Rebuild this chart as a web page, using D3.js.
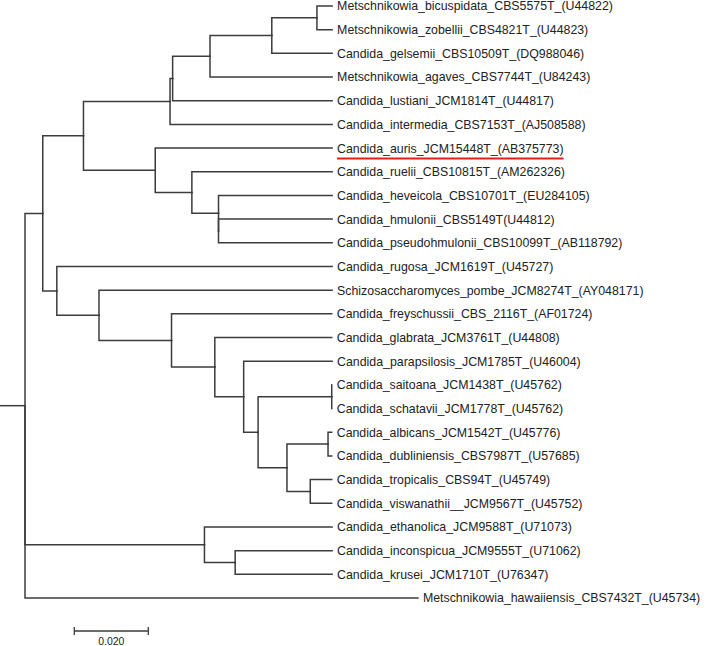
<!DOCTYPE html>
<html><head><meta charset="utf-8">
<script src="https://cdn.jsdelivr.net/npm/d3@7/dist/d3.min.js"></script>
<style>body{margin:0;background:#fff}svg{display:block}</style>
</head><body>
<svg id="c" width="707" height="646"></svg>
<script>
// Tree topology & branch lengths (substitutions/site), children listed in drawing order
const nodeIds = [
 "root","A","C","O","Q","R","S","T",
 "Metschnikowia_bicuspidata_CBS5575T_(U44822)","Metschnikowia_zobellii_CBS4821T_(U44823)",
 "Candida_gelsemii_CBS10509T_(DQ988046)","Metschnikowia_agaves_CBS7744T_(U84243)",
 "Candida_lustiani_JCM1814T_(U44817)","Candida_intermedia_CBS7153T_(AJ508588)",
 "P","Candida_auris_JCM15448T_(AB375773)","U","Candida_ruelii_CBS10815T_(AM262326)",
 "V","Candida_heveicola_CBS10701T_(EU284105)","V2","Candida_hmulonii_CBS5149T(U44812)",
 "Candida_pseudohmulonii_CBS10099T_(AB118792)",
 "D","Candida_rugosa_JCM1619T_(U45727)","E","Schizosaccharomyces_pombe_JCM8274T_(AY048171)",
 "F","Candida_freyschussii_CBS_2116T_(AF01724)","G","Candida_glabrata_JCM3761T_(U44808)",
 "H","Candida_parapsilosis_JCM1785T_(U46004)","I","J","Candida_saitoana_JCM1438T_(U45762)",
 "Candida_schatavii_JCM1778T_(U45762)","K","L","Candida_albicans_JCM1542T_(U45776)",
 "Candida_dubliniensis_CBS7987T_(U57685)","M","Candida_tropicalis_CBS94T_(U45749)",
 "Candida_viswanathii__JCM9567T_(U45752)",
 "B","Candida_ethanolica_JCM9588T_(U71073)","N","Candida_inconspicua_JCM9555T_(U71062)",
 "Candida_krusei_JCM1710T_(U76347)","Metschnikowia_hawaiiensis_CBS7432T_(U45734)"
];
const parentIds = [
 "","root","A","C","O","Q","R","S",
 "T","T",
 "S","R",
 "Q","O",
 "C","P","P","U",
 "U","V","V","V2",
 "V2",
 "A","D","D","E",
 "E","F","F","G",
 "G","H","H","I","J",
 "J","I","K","L",
 "L","K","M",
 "M",
 "root","B","B","N",
 "N","root"
];
const branchLengths = [
 0,0.0048,0.0110,0.0234,0.0007,0.0101,0.0167,0.0122,
 0.0041,0.0041,
 0.0163,0.0330,
 0.0431,0.0438,
 0.0194,0.0478,0.0099,0.0379,
 0.0072,0.0307,0,0.0307,
 0.0307,
 0.0038,0.0744,0.0114,0.0630,
 0.0196,0.0433,0.0117,0.0316,
 0.0078,0.0239,0.0039,0.0199,0,
 0,0.0078,0.0111,0.0010,
 0.0010,0.0063,0.0058,
 0.0058,
 0.0485,0.0345,0.0083,0.0262,
 0.0262,0.1062
];
const highlighted = ["Candida_auris_JCM15448T_(AB375773)"];
const scaleBarValue = 0.020;
const scaleBarLabel = "0.020";

const svg = d3.select("#c");
const rows = nodeIds.map((id,i)=>({id, parent: parentIds[i]||null, len: branchLengths[i]}));
const root = d3.stratify().id(d=>d.id).parentId(d=>d.parent)(rows);

const x = d3.scaleLinear().domain([0, scaleBarValue]).range([25, 99]);
const leaves = root.leaves();
const y = d3.scaleLinear().domain([0, leaves.length-1]).range([6, 598]);

root.eachBefore(n => { n.dist = n.parent ? n.parent.dist + n.data.len : 0; });
leaves.forEach((n,i)=>{ n.py = y(i); });
root.eachAfter(n => { if (n.children) n.py = (n.children[0].py + n.children[n.children.length-1].py)/2; });

const g = svg.append("g");
const stroke = "#3c3c3c";
// root stub
g.append("line").attr("x1",0).attr("x2",x(0)).attr("y1",root.py).attr("y2",root.py)
 .attr("stroke",stroke).attr("stroke-width",1.5);
g.selectAll("path.link").data(root.links()).join("path")
 .attr("class","link")
 .attr("d", l => `M${x(l.source.dist)},${l.source.py}V${l.target.py}H${x(l.target.dist)}`)
 .attr("fill","none").attr("stroke",stroke).attr("stroke-width",1.5)
 .attr("stroke-linecap","square");

const lab = g.selectAll("text.leaf").data(leaves).join("text")
 .attr("class","leaf")
 .attr("x", d => x(d.dist)+5)
 .attr("y", d => d.py)
 .attr("dy","0.36em")
 .attr("font-family","Arial, 'Liberation Sans', sans-serif")
 .attr("font-size",12.35)
 .attr("fill","#222")
 .text(d=>d.id);

lab.filter(d=>highlighted.includes(d.id)).each(function(d){
  const bb = this.getBBox();
  g.append("line").attr("x1",bb.x).attr("x2",bb.x+bb.width)
   .attr("y1",d.py+10.3).attr("y2",d.py+10.3)
   .attr("stroke","#e0201c").attr("stroke-width",2);
});

// scale bar
const sbx = 74.3, sby = 631, sbw = x(scaleBarValue)-x(0);
const sb = svg.append("g");
sb.append("path").attr("d",`M${sbx},${sby-4}V${sby+4}M${sbx},${sby}H${sbx+sbw}M${sbx+sbw},${sby-4}V${sby+4}`)
 .attr("fill","none").attr("stroke",stroke).attr("stroke-width",1.3);
sb.append("text").attr("x",sbx+sbw/2).attr("y",645).attr("text-anchor","middle")
 .attr("font-family","Arial, 'Liberation Sans', sans-serif").attr("font-size",10.5).attr("fill","#222")
 .text(scaleBarLabel);
</script>
</body></html>
